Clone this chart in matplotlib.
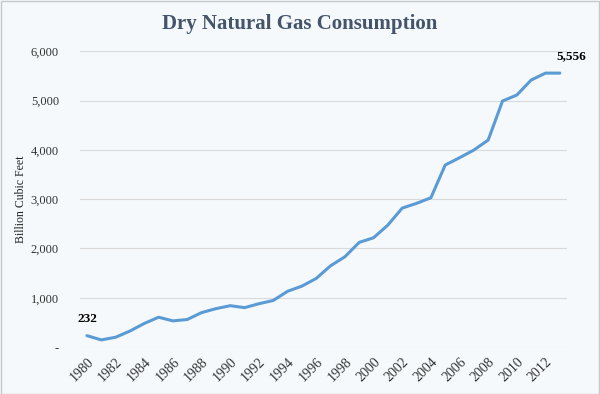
import matplotlib.pyplot as plt
from matplotlib.patches import Rectangle
from matplotlib.ticker import FuncFormatter

years = list(range(1980, 2014))
consumption = [232, 146, 200, 326, 480, 606, 532, 560, 700, 780,
               840, 800, 880, 946, 1132, 1237, 1393, 1649, 1832, 2124,
               2217, 2475, 2819, 2915, 3028, 3692, 3840, 3996, 4199, 4990,
               5112, 5416, 5556, 5556]
tick_years = list(range(1980, 2013, 2))

BG = "#f5f9fc"
LINE = "#5b9bd5"
SERIF = ["Liberation Serif", "DejaVu Serif"]

plt.rcParams["font.family"] = SERIF

fig = plt.figure(figsize=(6.0, 3.94), dpi=100, facecolor=BG)
ax = fig.add_axes([0.133, 0.119, 0.812, 0.751], facecolor=BG)

# thin grey frame round the whole picture
fig.patches.append(Rectangle((0.001, 0.001), 0.997, 0.997, transform=fig.transFigure,
                             fill=False, edgecolor="#c8c8c8", linewidth=1.0))

ax.plot(years, consumption, color=LINE, linewidth=2.2, solid_capstyle="round")

ax.set_xlim(1979.5, 2013.5)
ax.set_ylim(0, 6000)
ax.set_yticks(range(0, 6001, 1000))
ax.yaxis.set_major_formatter(FuncFormatter(lambda v, p: "-" if v == 0 else f"{int(v):,}"))
ax.set_xticks(tick_years)
ax.set_xticklabels([str(y) for y in tick_years], rotation=45, ha="right",
                   rotation_mode="anchor")
ax.tick_params(axis="both", length=0, colors="#333333")
ax.tick_params(axis="y", pad=15, labelsize=9)
ax.tick_params(axis="x", pad=6, labelsize=10)

ax.grid(axis="y", color="#d9d9d9", linewidth=0.8)
for s in ax.spines.values():
    s.set_visible(False)

ax.set_ylabel("Billion Cubic Feet", fontsize=8.5, color="#222222")
ax.yaxis.set_label_coords(-0.109, 0.5)

ax.annotate(f"{consumption[0]:,}", (years[0], consumption[0]), xytext=(0, 8),
            textcoords="offset points", ha="center", va="bottom",
            fontsize=9.5, fontweight="bold")
ax.annotate(f"{consumption[-1]:,}", (years[-1], consumption[-1]), xytext=(8, 8),
            textcoords="offset points", ha="center", va="bottom",
            fontsize=9.5, fontweight="bold")

fig.text(0.5, 0.938, "Dry Natural Gas Consumption", ha="center", va="center",
         fontsize=15, fontweight="bold", color="#44546a")

fig.savefig("out.png", dpi=100, facecolor=BG)
